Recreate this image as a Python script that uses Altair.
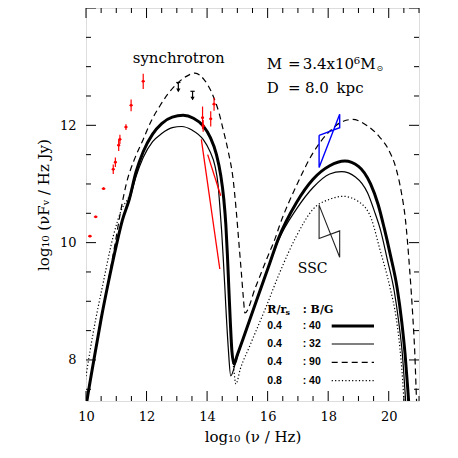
import altair as alt
import pandas as pd

SERIF = "DejaVu Serif"
SANS = "Liberation Sans"

# ---------------- model curves (log nu, log nuFnu) ----------------
thick_x = [10.00, 10.03, 10.26, 10.50, 10.75, 11.00, 11.20, 11.43, 11.65, 11.89, 12.20, 12.50, 12.85,
           13.21, 13.55, 13.87, 14.10, 14.31, 14.45, 14.55, 14.62, 14.67, 14.72, 14.77, 14.82, 14.89,
           15.00, 15.19, 15.63, 16.07, 16.35, 16.95, 17.50, 18.05, 18.55, 19.00, 19.40, 19.65, 19.85,
           20.05, 20.28, 20.43, 20.54, 20.63, 20.69]
thick_y = [7.20, 7.30, 8.00, 8.70, 9.35, 9.95, 10.38, 10.74, 11.20, 11.55, 11.85, 12.03, 12.14,
           12.17, 12.12, 11.99, 11.80, 11.50, 11.15, 10.75, 10.30, 9.80, 9.20, 8.62, 8.15, 7.93,
           8.09, 8.36, 9.01, 9.65, 10.06, 10.68, 11.08, 11.31, 11.39, 11.30, 11.00, 10.65, 10.25,
           9.80, 9.22, 8.65, 8.10, 7.50, 7.05]

thin_x = [10.00, 10.03, 10.26, 10.50, 10.75, 11.00, 11.20, 11.43, 11.65, 11.89, 12.20, 12.50, 12.85,
          13.16, 13.50, 13.87, 14.10, 14.26, 14.36, 14.42, 14.48, 14.53, 14.58, 14.62, 14.70, 14.78,
          14.97, 15.19, 15.63, 16.07, 16.35, 16.95, 17.50, 18.05, 18.44, 18.90, 19.30, 19.55, 19.72,
          19.95, 20.18, 20.33, 20.45, 20.54, 20.59]
thin_y = [7.20, 7.30, 8.00, 8.70, 9.35, 9.95, 10.38, 10.72, 11.12, 11.45, 11.72, 11.86, 11.96,
          11.98, 11.92, 11.76, 11.55, 11.31, 11.00, 10.63, 10.20, 9.77, 9.30, 8.90, 8.20, 7.73,
          8.01, 8.36, 9.01, 9.65, 10.03, 10.57, 10.94, 11.17, 11.21, 11.12, 10.85, 10.50, 10.23,
          9.72, 9.18, 8.65, 8.10, 7.45, 7.05]

dash_x = [10.00, 10.03, 10.26, 10.50, 10.75, 10.95, 11.15, 11.34, 11.60, 11.89, 12.15, 12.44, 12.70,
          12.99, 13.30, 13.60, 13.90, 14.20, 14.40, 14.53, 14.70, 14.86, 14.97, 15.05, 15.13, 15.20,
          15.25, 15.60, 16.00, 16.24, 16.40, 16.95, 17.50, 18.05, 18.50, 18.80, 19.30, 19.70, 20.00,
          20.25, 20.42, 20.55, 20.69, 20.80, 20.86, 20.92, 20.96]
dash_y = [7.20, 7.30, 8.00, 8.70, 9.38, 9.95, 10.55, 11.02, 11.42, 11.76, 12.07, 12.33, 12.53,
          12.70, 12.83, 12.89, 12.78, 12.50, 12.20, 11.93, 11.55, 11.08, 10.50, 10.00, 9.50, 9.05,
          8.80, 9.24, 9.76, 10.06, 10.30, 10.97, 11.53, 11.90, 12.07, 12.10, 11.99, 11.80, 11.58,
          11.25, 10.85, 10.40, 9.55, 8.70, 8.13, 7.30, 6.90]

dot_x = [9.95, 10.02, 10.24, 10.57, 10.90, 11.18, 11.43, 11.65, 11.89, 12.20, 12.50, 12.85, 13.21,
         13.55, 13.87, 14.10, 14.31, 14.45, 14.55, 14.62, 14.67, 14.72, 14.77, 14.82, 14.88, 14.95,
         15.10, 15.41, 15.96, 16.40, 16.95, 17.50, 18.05, 18.49, 19.00, 19.43, 19.70, 20.03, 20.25,
         20.37, 20.46, 20.52]
dot_y = [7.55, 7.79, 8.47, 9.32, 10.11, 10.57, 10.80, 11.20, 11.55, 11.85, 12.03, 12.14, 12.17,
         12.12, 11.99, 11.80, 11.50, 11.15, 10.75, 10.30, 9.80, 9.20, 8.62, 8.15, 7.85, 7.59,
         7.85, 8.24, 8.92, 9.49, 10.11, 10.57, 10.74, 10.79, 10.70, 10.40, 9.90, 9.26, 8.70,
         8.20, 7.65, 7.15]

# ---------------- observations ----------------
red_x = [10.13, 10.32, 10.58, 10.90, 10.97, 11.08, 11.12, 11.32, 11.49, 11.89, 13.85, 13.87, 14.12, 14.23]
red_y = [10.11, 10.44, 10.92, 11.25, 11.37, 11.66, 11.76, 11.97, 12.34, 12.75, 12.13, 11.99, 12.11, 12.36]
red_yerr = [0.02, 0.02, 0.02, 0.08, 0.08, 0.10, 0.08, 0.05, 0.10, 0.13, 0.19, 0.10, 0.13, 0.11]
red_xerr = [0.06, 0.06, 0.06, 0.05, 0.05, 0.05, 0.05, 0.05, 0.05, 0.05, 0.05, 0.05, 0.05, 0.05]

seg_x1 = [13.81, 14.02]
seg_y1 = [11.76, 11.50]
seg_x2 = [14.42, 14.45]
seg_y2 = [9.55, 10.80]

ul_x = [13.05, 13.52]
ul_top = [12.73, 12.58]
ul_bot = [12.58, 12.44]
ul_halfwidth = 0.07

bow_x = [17.70, 17.70, 18.38, 18.38, 17.70]
bow_y = [11.83, 11.28, 12.19, 11.96, 11.83]

ssc_x = [17.70, 17.70, 18.38, 18.38, 17.70]
ssc_y = [10.64, 10.07, 10.20, 9.75, 10.64]

x_labels = [10, 12, 14, 16, 18, 20]
y_labels = [8, 10, 12]

# ---------------- layout ----------------
W, H = 333, 393
xs = alt.Scale(domain=[10, 21], nice=False, zero=False)
ys = alt.Scale(domain=[7.3, 14.0], nice=False, zero=False)

xax = alt.Axis(values=x_labels, ticks=False, domain=False, grid=False,
               labelFont=SERIF, labelFontSize=13, labelColor="black", labelPadding=9,
               labelFlush=False,
               title="log₁₀ (ν / Hz)", titleFont=SERIF, titleFontSize=15,
               titleFontWeight="normal", titleColor="black", titlePadding=6)
yax = alt.Axis(values=y_labels, ticks=False, domain=False, grid=False,
               labelFont=SERIF, labelFontSize=13, labelColor="black", labelPadding=10,
               labelFlush=False,
               title="log₁₀ (νFᵥ / Hz Jy)", titleFont=SERIF, titleFontSize=15,
               titleFontWeight="normal", titleColor="black", titlePadding=8)


def X(f="x"):
    return alt.X(f"{f}:Q", scale=xs, axis=xax)


def Y(f="y"):
    return alt.Y(f"{f}:Q", scale=ys, axis=yax)


def curve_df(xv, yv):
    return pd.DataFrame({"x": xv, "y": yv, "o": list(range(len(xv)))})


layers = []

# curves
curve_styles = [
    (thick_x, thick_y, dict(strokeWidth=3.0)),
    (thin_x, thin_y, dict(strokeWidth=1.2)),
    (dash_x, dash_y, dict(strokeWidth=1.2, strokeDash=[6, 4])),
    (dot_x, dot_y, dict(strokeWidth=1.2, strokeDash=[1.2, 2.2])),
]
for cx, cy, st in curve_styles:
    layers.append(
        alt.Chart(curve_df(cx, cy)).mark_line(color="black", clip=True,
                                                interpolate="monotone", **st)
        .encode(x=X(), y=Y(), order=alt.Order("o:Q"))
    )

# red data
red = pd.DataFrame({"x": red_x, "y": red_y})
red["ylo"] = red["y"] - pd.Series(red_yerr)
red["yhi"] = red["y"] + pd.Series(red_yerr)
red["xlo"] = red["x"] - pd.Series(red_xerr)
red["xhi"] = red["x"] + pd.Series(red_xerr)
layers.append(alt.Chart(red).mark_rule(color="red", strokeWidth=1.2)
              .encode(x=X(), y=Y("ylo"), y2="yhi:Q"))
layers.append(alt.Chart(red).mark_rule(color="red", strokeWidth=1.2)
              .encode(x=X("xlo"), x2="xhi:Q", y=Y()))
layers.append(alt.Chart(red).mark_point(color="red", filled=True, size=8, opacity=1)
              .encode(x=X(), y=Y()))

segs = pd.DataFrame({"x": seg_x1, "y": seg_y1, "x2": seg_x2, "y2": seg_y2})
layers.append(alt.Chart(segs).mark_rule(color="red", strokeWidth=1.3)
              .encode(x=X(), y=Y(), x2="x2:Q", y2="y2:Q"))

# upper limits
ul = pd.DataFrame({"x": ul_x, "top": ul_top, "bot": ul_bot})
ul["xl"] = ul["x"] - ul_halfwidth
ul["xr"] = ul["x"] + ul_halfwidth
layers.append(alt.Chart(ul).mark_rule(color="black", strokeWidth=1.2)
              .encode(x=X(), y=Y("top"), y2="bot:Q"))
layers.append(alt.Chart(ul).mark_rule(color="black", strokeWidth=1.2)
              .encode(x=X("xl"), x2="xr:Q", y=Y("top")))
layers.append(alt.Chart(ul).mark_point(shape="triangle-down", color="black", filled=True,
                                       size=18, opacity=1, yOffset=-1)
              .encode(x=X(), y=Y("bot")))

# bowtie (blue) and SSC lightning
layers.append(alt.Chart(curve_df(bow_x, bow_y)).mark_line(color="#0000ff", strokeWidth=1.4)
              .encode(x=X(), y=Y(), order=alt.Order("o:Q")))
layers.append(alt.Chart(curve_df(ssc_x, ssc_y)).mark_line(color="#222222", strokeWidth=1.1)
              .encode(x=X(), y=Y(), order=alt.Order("o:Q")))

# inward ticks on all four sides
xt = pd.DataFrame({"t": [10 + 0.5 * i for i in range(23)]})
xt["major"] = (xt["t"] % 2 == 0)
yt = pd.DataFrame({"t": [7.5 + 0.5 * i for i in range(14)]})
yt["major"] = (yt["t"] % 2 == 0)
for flag, ln in ((True, 10), (False, 5)):
    xsub = xt[xt["major"] == flag]
    ysub = yt[yt["major"] == flag]
    layers.append(alt.Chart(xsub).mark_rule(color="black", strokeWidth=1)
                  .encode(x=X("t"), y=alt.value(0), y2=alt.value(ln)))
    layers.append(alt.Chart(xsub).mark_rule(color="black", strokeWidth=1)
                  .encode(x=X("t"), y=alt.value(H), y2=alt.value(H - ln)))
    layers.append(alt.Chart(ysub).mark_rule(color="black", strokeWidth=1)
                  .encode(y=Y("t"), x=alt.value(0), x2=alt.value(ln)))
    layers.append(alt.Chart(ysub).mark_rule(color="black", strokeWidth=1)
                  .encode(y=Y("t"), x=alt.value(W), x2=alt.value(W - ln)))

one = pd.DataFrame({"a": [0]})


def txt(s, px, py, font=SERIF, size=14, weight="normal", align="left", baseline="alphabetic"):
    return alt.Chart(one).mark_text(text=s, x=px, y=py, font=font, fontSize=size,
                                    fontWeight=weight, align=align, baseline=baseline,
                                    color="black")


layers += [
    txt("synchrotron", 92.7, 55, size=15, align="center"),
    # M = 3.4x10^6 M_sun
    txt("M", 180.7, 61.3, size=15),
    txt("=", 202, 61.3, size=15),
    txt("3.4x10⁶M", 289.5, 61.3, size=15, align="right"),
    txt("⊙", 290.5, 63, font="DejaVu Sans", size=8),
    # D = 8.0 kpc
    txt("D", 180.7, 84.7, size=15),
    txt("=", 202, 84.7, size=15),
    txt("8.0", 219, 84.7, size=15),
    txt("kpc", 250.5, 84.7, size=15),
    txt("SSC", 226.7, 265.3, size=14, align="center"),
    txt("R/r", 181.3, 302, size=11, weight="bold", baseline="middle"),
    txt("s", 199.5, 305, size=8, weight="bold", baseline="middle"),
    txt(": B/G", 216.7, 302, size=11, weight="bold", baseline="middle"),
]
rows = [("0.4", ": 40", 318, dict(strokeWidth=3.0)),
        ("0.4", ": 32", 336, dict(strokeWidth=1.2)),
        ("0.4", ": 90", 354.3, dict(strokeWidth=1.2, strokeDash=[6, 4])),
        ("0.8", ": 40", 372.7, dict(strokeWidth=1.2, strokeDash=[1.2, 2.2]))]
for a, b, py, st in rows:
    layers.append(txt(a, 181.3, py, font=SANS, size=10.5, weight="bold", baseline="middle"))
    layers.append(txt(b, 216.7, py, font=SANS, size=10.5, weight="bold", baseline="middle"))
    layers.append(alt.Chart(one).mark_rule(color="black", **st)
                  .encode(x=alt.value(245.7), x2=alt.value(288), y=alt.value(py)))

chart = (
    alt.layer(*layers)
    .properties(width=W, height=H, autosize="none",
                padding={"left": 78, "top": 0, "right": 30, "bottom": 50})
    .configure_view(stroke="black", strokeWidth=1.5)
    .configure(background="white")
)

chart.save("out.html", embed_options={"renderer": "svg", "actions": False})
